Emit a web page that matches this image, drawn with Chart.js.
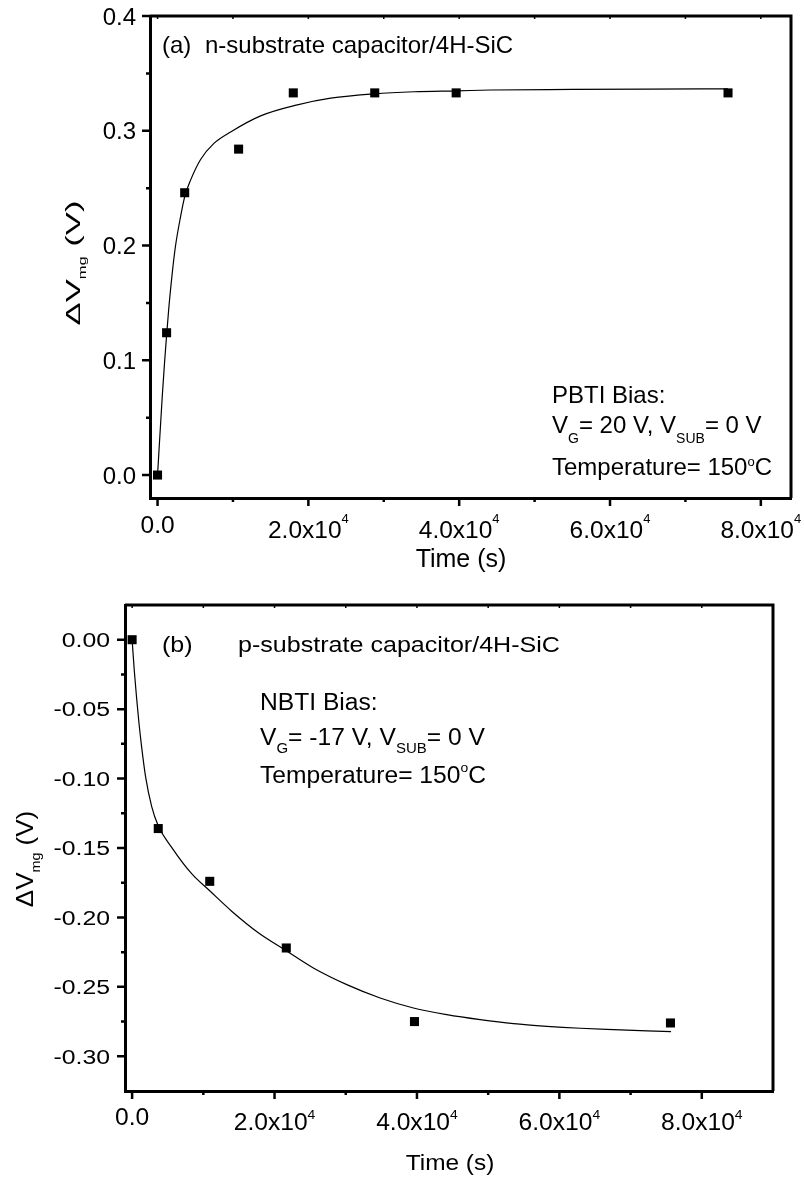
<!DOCTYPE html>
<html>
<head>
<meta charset="utf-8">
<script src="https://cdn.jsdelivr.net/npm/chart.js@4.4.1/dist/chart.umd.min.js"></script>
<style>
  body { margin: 0; background: #fff; }
  .panel { position: absolute; left: 0; width: 804px; }
  #panelA { top: 0; height: 585px; }
  #panelB { top: 585px; height: 594px; }
</style>
</head>
<body>
<div class="panel" id="panelA"><canvas id="chartA"></canvas></div>
<div class="panel" id="panelB"><canvas id="chartB"></canvas></div>
<script>
// panel (a): PBTI stress, n-substrate capacitor
const timeA = [0, 1200, 3600, 10750, 18000, 28800, 39600, 75650];
const dvA = [0, 0.124, 0.246, 0.284, 0.333, 0.333, 0.333, 0.333];
const fitTimeA = [0, 620, 930, 1190, 1500, 1950, 2390, 3050, 3620, 4380, 5710, 7470, 9690, 13670, 18540, 22960, 28710, 34020, 39770, 44190, 55000, 65000, 75650];
const fitA = [0, 0.068, 0.098, 0.121, 0.146, 0.176, 0.2, 0.225, 0.243, 0.257, 0.275, 0.289, 0.299, 0.313, 0.3226, 0.3284, 0.3322, 0.334, 0.3348, 0.3355, 0.336, 0.3363, 0.3365];
const xTicksA = [0, 20000, 40000, 60000, 80000];
const xTickLabelsA = ["0.0", "2.0x10^{4}", "4.0x10^{4}", "6.0x10^{4}", "8.0x10^{4}"];
const xMinorA = [10000, 30000, 50000, 70000];
const yTicksA = [0, 0.1, 0.2, 0.3, 0.4];
const yTickLabelsA = ["0.0", "0.1", "0.2", "0.3", "0.4"];
const yMinorA = [0.05, 0.15, 0.25, 0.35];

// panel (b): NBTI stress, p-substrate capacitor
const timeB = [0, 3670, 10900, 21650, 39650, 75600];
const dvB = [0, -0.136, -0.174, -0.222, -0.275, -0.276];
const fitTimeB = [0, 300, 630, 960, 1330, 1900, 2740, 3670, 5550, 8360, 10935, 13980, 17720, 21500, 25450, 30150, 34830, 39510, 44200, 48880, 53570, 58260, 62940, 67620, 72310, 75680];
const fitB = [0, -0.022, -0.042, -0.06, -0.077, -0.099, -0.12, -0.134, -0.1495, -0.1685, -0.181, -0.1955, -0.211, -0.2235, -0.2364, -0.2484, -0.258, -0.2652, -0.27, -0.2736, -0.2765, -0.2784, -0.2798, -0.2808, -0.2817, -0.2822];
const xTicksB = [0, 20000, 40000, 60000, 80000];
const xTickLabelsB = ["0.0", "2.0x10^{4}", "4.0x10^{4}", "6.0x10^{4}", "8.0x10^{4}"];
const xMinorB = [10000, 30000, 50000, 70000];
const yTicksB = [0, -0.05, -0.1, -0.15, -0.2, -0.25, -0.3];
const yTickLabelsB = ["0.00", "-0.05", "-0.10", "-0.15", "-0.20", "-0.25", "-0.30"];
const yMinorB = [-0.025, -0.075, -0.125, -0.175, -0.225, -0.275];

const FAMILY = '"Liberation Sans", Arial, sans-serif';

// split "V_{G}= 20 V" style strings into runs
function parseRich(s) {
  const parts = [];
  const re = /([_^])\{([^}]*)\}/g;
  let last = 0, m;
  while ((m = re.exec(s))) {
    if (m.index > last) parts.push([s.slice(last, m.index), ""]);
    parts.push([m[2], m[1] === "_" ? "sub" : "sup"]);
    last = re.lastIndex;
  }
  if (last < s.length) parts.push([s.slice(last), ""]);
  return parts;
}

function drawRich(ctx, text, x, y, o) {
  const parts = parseRich(text);
  const size = o.size;
  const small = o.small || Math.round(size * 0.58);
  ctx.save();
  ctx.fillStyle = "#000";
  ctx.textBaseline = "alphabetic";
  ctx.textAlign = "left";
  let w = 0;
  const widths = parts.map(([t, k]) => {
    ctx.font = (k ? small : size) + "px " + FAMILY;
    const mw = ctx.measureText(t).width;
    w += mw;
    return mw;
  });
  ctx.translate(x, y);
  if (o.rotate) ctx.rotate(o.rotate);
  ctx.scale(o.sx || 1, o.sy || 1);
  let cx = o.align === "center" ? -w / 2 : o.align === "right" ? -w : 0;
  parts.forEach(([t, k], i) => {
    ctx.font = (k ? small : size) + "px " + FAMILY;
    let dy = 0;
    if (k === "sub") dy = o.subOff;
    if (k === "sup") dy = -o.supOff;
    ctx.fillText(t, cx, dy);
    cx += widths[i];
  });
  ctx.restore();
}

function frameAndLabels(spec) {
  return {
    id: "frame",
    afterDraw(chart) {
      const { ctx, chartArea: a } = chart;
      const x = chart.scales.x;
      const y = chart.scales.y;
      ctx.save();
      ctx.strokeStyle = "#000";
      ctx.lineWidth = 3;
      ctx.beginPath();
      ctx.moveTo(a.left, a.top);
      ctx.lineTo(a.right, a.top);
      ctx.lineTo(a.right, a.bottom);
      ctx.stroke();

      ctx.lineWidth = 2.5;
      ctx.beginPath();
      spec.xTicks.forEach((v) => {
        const px = x.getPixelForValue(v);
        ctx.moveTo(px, a.bottom);
        ctx.lineTo(px, a.bottom + 8);
      });
      spec.xMinor.forEach((v) => {
        const px = x.getPixelForValue(v);
        ctx.moveTo(px, a.bottom);
        ctx.lineTo(px, a.bottom + 4);
      });
      spec.yTicks.forEach((v) => {
        const py = y.getPixelForValue(v);
        ctx.moveTo(a.left - 8, py);
        ctx.lineTo(a.left, py);
      });
      spec.yMinor.forEach((v) => {
        const py = y.getPixelForValue(v);
        ctx.moveTo(a.left - 4, py);
        ctx.lineTo(a.left, py);
      });
      ctx.stroke();

      // small inward ticks on the top frame
      ctx.lineWidth = 1.5;
      ctx.beginPath();
      spec.xTicks.concat(spec.xMinor).forEach((v) => {
        const px = x.getPixelForValue(v);
        ctx.moveTo(px, a.top);
        ctx.lineTo(px, a.top + 3);
      });
      ctx.stroke();
      ctx.restore();

      const xl = spec.xLab;
      spec.xTicks.forEach((v, i) => {
        const label = spec.xTickLabels[i];
        const lift = label.includes("^") ? 0 : xl.plainLift;
        drawRich(ctx, label, x.getPixelForValue(v), xl.base - lift, {
          size: xl.size, small: xl.small, supOff: xl.supOff, sx: xl.sx, align: "center",
        });
      });
      const yl = spec.yLab;
      spec.yTicks.forEach((v, i) => {
        drawRich(ctx, spec.yTickLabels[i], yl.right, y.getPixelForValue(v) + yl.size * 0.358, {
          size: yl.size, sx: yl.sx, align: "right",
        });
      });
      spec.texts.forEach((t) => drawRich(ctx, t.text, t.x, t.y, t));
    },
  };
}

function makeChart(id, spec) {
  const points = spec.time.map((t, i) => ({ x: t, y: spec.dv[i] }));
  const fit = spec.fitTime.map((t, i) => ({ x: t, y: spec.fit[i] }));
  return new Chart(document.getElementById(id), {
    type: "scatter",
    data: {
      datasets: [
        {
          data: points,
          pointStyle: "rect",
          pointRadius: 6.4,
          pointHoverRadius: 6.4,
          backgroundColor: "#000",
          borderWidth: 0,
        },
        {
          data: fit,
          showLine: true,
          borderColor: "#000",
          borderWidth: 1.2,
          pointRadius: 0,
          cubicInterpolationMode: "monotone",
          fill: false,
        },
      ],
    },
    options: {
      responsive: true,
      maintainAspectRatio: false,
      animation: false,
      layout: { padding: spec.padding },
      plugins: { legend: { display: false }, tooltip: { enabled: false } },
      scales: {
        x: {
          type: "linear",
          min: spec.xMin,
          max: spec.xMax,
          ticks: { display: false },
          grid: { display: false },
          border: { display: true, width: 3, color: "#000" },
          afterFit: (s) => { s.height = spec.xHeight; },
        },
        y: {
          type: "linear",
          min: spec.yMin,
          max: spec.yMax,
          ticks: { display: false },
          grid: { display: false },
          border: { display: true, width: 3, color: "#000" },
          afterFit: (s) => { s.width = spec.yWidth; },
        },
      },
    },
    plugins: [frameAndLabels(spec)],
  });
}

makeChart("chartA", {
  time: timeA, dv: dvA, fitTime: fitTimeA, fit: fitA,
  xMin: -1000, xMax: 84000, yMin: -0.02, yMax: 0.4,
  padding: { top: 16, right: 13, left: 0, bottom: 0 },
  xHeight: 87, yWidth: 150,
  xTicks: xTicksA, xTickLabels: xTickLabelsA, xMinor: xMinorA,
  yTicks: yTicksA, yTickLabels: yTickLabelsA, yMinor: yMinorA,
  xLab: { size: 24.5, small: 13, supOff: 15, sx: 1, base: 538, plainLift: 5 },
  yLab: { size: 24, sx: 1, right: 136 },
  texts: [
    { text: "(a)", x: 162, y: 53, size: 24 },
    { text: "n-substrate capacitor/4H-SiC", x: 205, y: 53, size: 24 },
    { text: "PBTI Bias:", x: 552, y: 403, size: 24 },
    { text: "V_{G}= 20 V, V_{SUB}= 0 V", x: 552, y: 433, size: 24, small: 14, subOff: 10 },
    { text: "Temperature= 150^{o}C", x: 552, y: 475, size: 24, small: 13, supOff: 9 },
    { text: "Time (s)", x: 461, y: 567, size: 25, align: "center" },
    { text: "\u0394V_{mg} (V)", x: 80, y: 263, size: 21, small: 10, subOff: 6, sx: 1.65,
      rotate: -Math.PI / 2, align: "center" },
  ],
});

makeChart("chartB", {
  time: timeB, dv: dvB, fitTime: fitTimeB, fit: fitB,
  xMin: -1000, xMax: 90000, yMin: -0.325, yMax: 0.025,
  padding: { top: 20, right: 31, left: 0, bottom: 0 },
  xHeight: 88, yWidth: 125,
  xTicks: xTicksB, xTickLabels: xTickLabelsB, xMinor: xMinorB,
  yTicks: yTicksB, yTickLabels: yTickLabelsB, yMinor: yMinorB,
  xLab: { size: 23, small: 13, supOff: 11, sx: 1.07, base: 545, plainLift: 5 },
  yLab: { size: 20.5, sx: 1.21, right: 110 },
  texts: [
    { text: "(b)", x: 162, y: 67, size: 22, sx: 1.14 },
    { text: "p-substrate capacitor/4H-SiC", x: 238, y: 67, size: 22, sx: 1.14 },
    { text: "NBTI Bias:", x: 260, y: 125, size: 23, sx: 1.07 },
    { text: "V_{G}= -17 V, V_{SUB}= 0 V", x: 260, y: 160, size: 23, sx: 1.07, small: 14, subOff: 8 },
    { text: "Temperature= 150^{o}C", x: 260, y: 198, size: 23, sx: 1.07, small: 13, supOff: 11 },
    { text: "Time (s)", x: 450, y: 585, size: 22, sx: 1.11, align: "center" },
    { text: "\u0394V_{mg} (V)", x: 33, y: 274, size: 20, small: 11, subOff: 6, sx: 1.3, sy: 1.2,
      rotate: -Math.PI / 2, align: "center" },
  ],
});
</script>
</body>
</html>
